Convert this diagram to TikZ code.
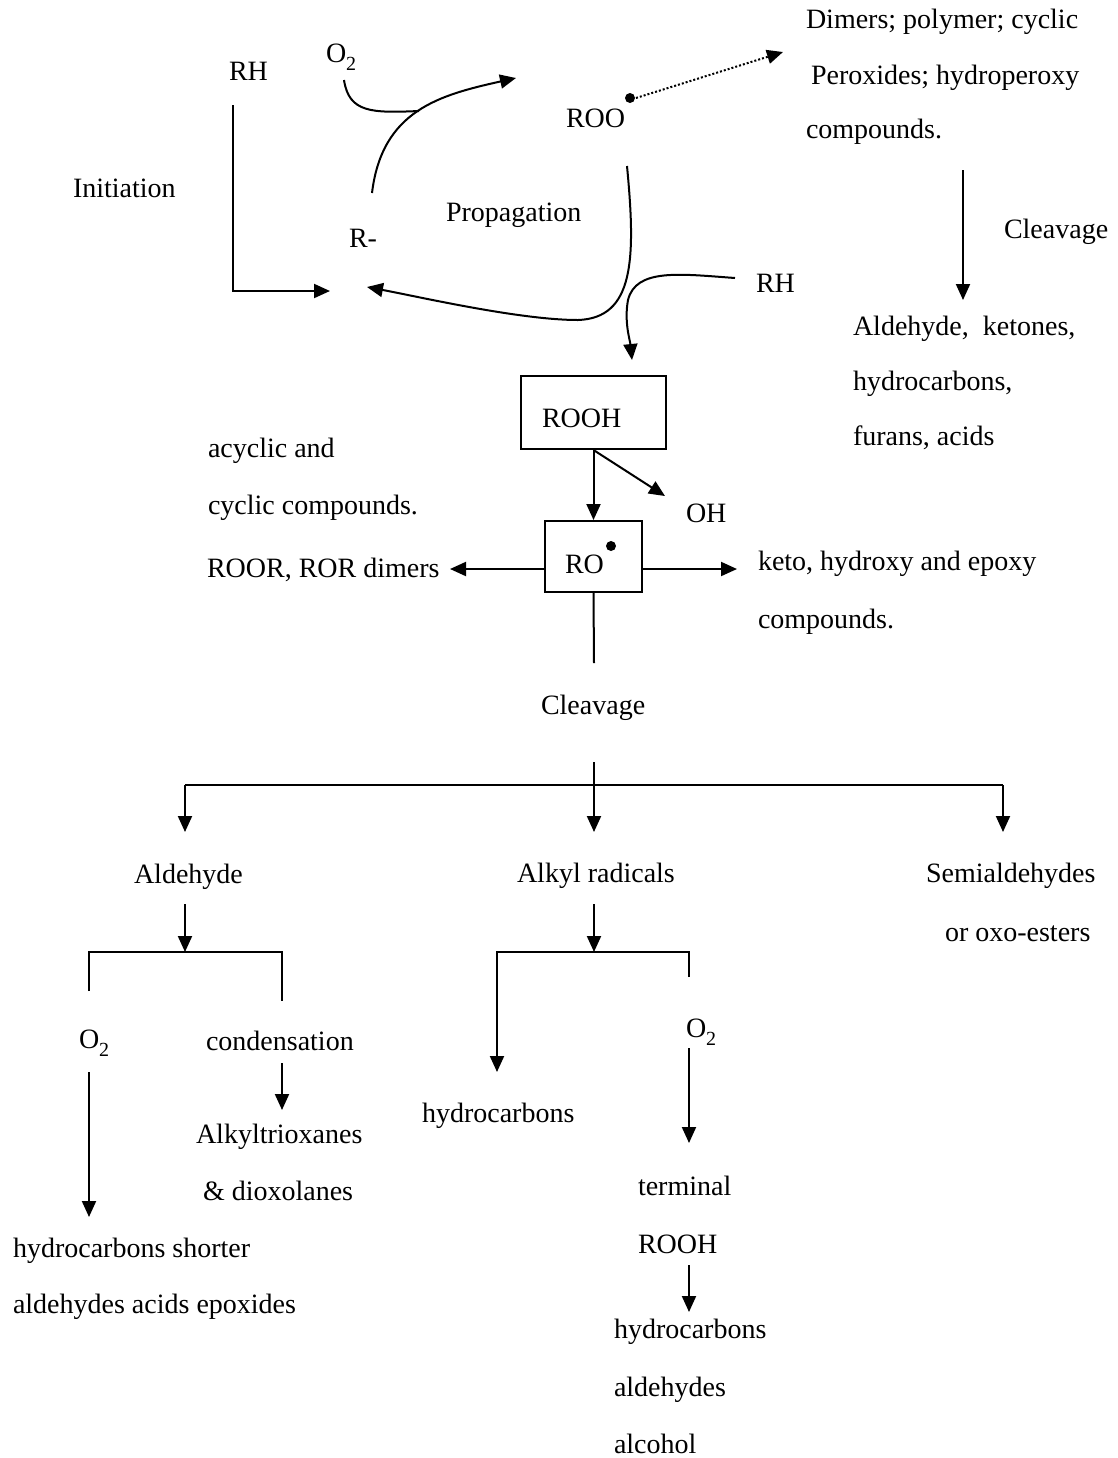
\documentclass[tikz,border=0pt]{standalone}
\usepackage{fontspec}
\setmainfont{Liberation Serif}
\usepackage{tikz}
\usetikzlibrary{arrows.meta,positioning}

\begin{document}
\begin{tikzpicture}[x=0.5pt,y=-0.5pt,line width=1pt,->,>={Triangle[length=8pt,width=7pt]},font=\fontsize{14pt}{17pt}\selectfont,textnode/.style={inner sep=0pt,anchor=base west},boxnode/.style={draw,rectangle,align=left,text depth=0pt},dotnode/.style={circle,fill,inner sep=0pt,minimum size=5pt}]

	\useasboundingbox (0,0) rectangle (1118,1458);

	% initiation and propagation
	\node [textnode] (0) at (228, 80) {RH};
	\node [textnode] (1) at (325, 62) {O\raisebox{-4pt}{\fontsize{10pt}{10pt}\selectfont 2}};
	\node [textnode] (2) at (72, 197) {Initiation};
	\node [textnode] (3) at (348, 247) {R-};
	\node [textnode] (4) at (445, 221) {Propagation};
	\node [textnode] (5) at (565, 127) {ROO};
	\node [dotnode] (5d) at (630, 98) {};
	\node [textnode] (6) at (805, 28) {Dimers; polymer; cyclic};
	\node [textnode] (7) at (810, 84) {Peroxides; hydroperoxy};
	\node [textnode] (8) at (805, 138) {compounds.};
	\node [textnode] (9) at (1003, 238) {Cleavage};
	\node [textnode] (10) at (755, 292) {RH};
	\node [textnode] (11) at (852, 335) {Aldehyde,\ \ ketones,};
	\node [textnode] (12) at (852, 390) {hydrocarbons,};
	\node [textnode] (13) at (852, 445) {furans, acids};

	% hydroperoxide and alkoxy radical
	\node [boxnode,minimum width=72.5pt,minimum height=36.5pt,text width=51.5pt,inner xsep=10.5pt,text height=14.5pt] (14) at (593.5, 412.5) {ROOH};
	\node [boxnode,minimum width=48.5pt,minimum height=35.5pt,text width=28.5pt,inner xsep=10pt,text height=16.5pt] (15) at (593.5, 556.5) {RO};
	\node [dotnode] (15d) at (611, 546) {};
	\node [textnode] (16) at (685, 522) {OH};
	\node [textnode] (17) at (757, 570) {keto, hydroxy and epoxy};
	\node [textnode] (18) at (757, 628) {compounds.};
	\node [textnode] (19) at (207, 457) {acyclic and};
	\node [textnode] (20) at (207, 514) {cyclic compounds.};
	\node [textnode] (21) at (206, 577) {ROOR, ROR dimers};
	\node [textnode] (22) at (540, 714) {Cleavage};

	% cleavage products
	\node [textnode] (23) at (133, 883) {Aldehyde};
	\node [textnode] (24) at (516, 882) {Alkyl radicals};
	\node [textnode] (25) at (925, 882) {Semialdehydes};
	\node [textnode] (26) at (944, 941) {or oxo-esters};
	\node [textnode] (27) at (78, 1048) {O\raisebox{-4pt}{\fontsize{10pt}{10pt}\selectfont 2}};
	\node [textnode] (28) at (205, 1050) {condensation};
	\node [textnode] (29) at (195, 1143) {Alkyltrioxanes};
	\node [textnode] (30) at (202, 1200) {\& dioxolanes};
	\node [textnode] (31) at (12, 1257) {hydrocarbons shorter};
	\node [textnode] (32) at (12, 1313) {aldehydes acids epoxides};
	\node [textnode] (33) at (421, 1122) {hydrocarbons};
	\node [textnode] (34) at (685, 1037) {O\raisebox{-4pt}{\fontsize{10pt}{10pt}\selectfont 2}};
	\node [textnode] (35) at (637, 1195) {terminal};
	\node [textnode] (36) at (637, 1253) {ROOH};
	\node [textnode] (37) at (613, 1338) {hydrocarbons};
	\node [textnode] (38) at (613, 1396) {aldehydes};
	\node [textnode] (39) at (613, 1453) {alcohol};

	% free ends
	\coordinate (0a) at (233, 105);
	\coordinate (3a) at (330, 291);
	\coordinate (3b) at (372, 193);
	\coordinate (3c) at (367, 287);
	\coordinate (1a) at (344, 80);
	\coordinate (1b) at (419, 111);
	\coordinate (5a) at (516, 78);
	\coordinate (5b) at (627, 166);
	\coordinate (6a) at (783, 52);
	\coordinate (8a) at (963, 170);
	\coordinate (11a) at (963, 300);
	\coordinate (10a) at (735, 278);
	\coordinate (14a) at (632, 360);
	\coordinate (16a) at (665, 496);
	\coordinate (17a) at (737, 569);
	\coordinate (21a) at (450, 569);
	\coordinate (22a) at (594, 663);
	\coordinate (22b) at (594, 762);
	\coordinate (24a) at (594, 832);
	\coordinate (23a) at (185, 832);
	\coordinate (25a) at (1003, 832);
	\coordinate (23b) at (185, 904);
	\coordinate (23c) at (185, 952);
	\coordinate (27a) at (89, 991);
	\coordinate (28a) at (282, 1001);
	\coordinate (27b) at (89, 1072);
	\coordinate (31a) at (89, 1217);
	\coordinate (28b) at (282, 1063);
	\coordinate (29a) at (282, 1110);
	\coordinate (24b) at (594, 904);
	\coordinate (24c) at (594, 952);
	\coordinate (34a) at (689, 977);
	\coordinate (33a) at (497, 1072);
	\coordinate (34b) at (689, 1048);
	\coordinate (35a) at (689, 1143);
	\coordinate (36a) at (689, 1265);
	\coordinate (37a) at (689, 1312);

	\draw (0a) |- (3a);
	\draw (3b) .. controls (382, 110) and (440, 95) .. (5a);
	\draw [-] (1a) .. controls (349, 113) and (372, 113) .. (1b);
	\draw (5b) .. controls (636, 260) and (634, 318) .. (578, 320) .. controls (520, 320) and (420, 297) .. (3c);
	\draw (10a) .. controls (680, 274) and (636, 268) .. (628, 300) .. controls (624, 322) and (630, 340) .. (14a);
	\draw [densely dotted] (5d.east) to (6a);
	\draw (8a) to (11a);

	\draw (14.south) to (15.north);
	\draw (14.south) to (16a);
	\draw ([yshift=-6.25pt]15.east) to (17a);
	\draw ([yshift=-6.25pt]15.west) to (21a);
	\draw [-] (15.south) to (22a);

	\draw (22b) to (24a);
	\draw [-] (23a |- 0, 785) to (25a |- 0, 785);
	\draw (23a |- 0, 785) to (23a);
	\draw (25a |- 0, 785) to (25a);

	\draw (23b) to (23c);
	\draw [-] (27a) |- (23c) -| (28a);
	\draw (27b) to (31a);
	\draw (28b) to (29a);

	\draw (24b) to (24c);
	\draw (34a) |- (24c) -| (33a);
	\draw (34b) to (35a);
	\draw (36a) to (37a);

\end{tikzpicture}
\end{document}
